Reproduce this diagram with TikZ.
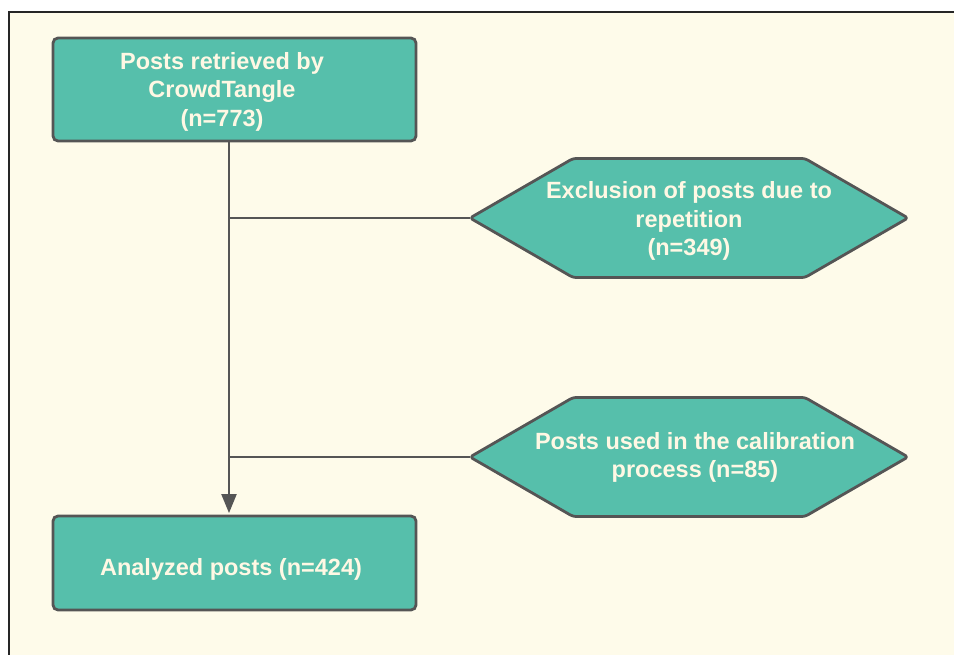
\documentclass[tikz,border=0pt]{standalone}
\usepackage{fontspec}
\setmainfont{Liberation Sans}
\usetikzlibrary{arrows.meta,calc,backgrounds}
\definecolor{cream}{HTML}{FEFBEA}
\definecolor{teal}{HTML}{56BFAB}
\definecolor{edge}{HTML}{555555}
\definecolor{txt}{HTML}{FFF8E4}
\tikzset{
  x=1pt, y=-1pt,
  boxnode/.style={draw=edge, line width=2.8pt, fill=teal, rounded corners=5pt,
    minimum width=363pt, inner sep=0pt},
  lbl/.style={inner sep=0pt, align=center, text=txt,
    font=\bfseries\fontsize{23.5}{28.5}\selectfont},
  hexshape/.style={draw=edge, line width=2.8pt, fill=teal, rounded corners=3pt, line join=round},
  link/.style={draw=edge, line width=2.2pt},
}
\begin{document}
\begin{tikzpicture}
\useasboundingbox (0,0) rectangle (954,655);
\fill[white] (0,0) rectangle (954,655);
\fill[cream] (9,12) rectangle (954,655);
\draw[black!85, line width=1.2pt] (9,655) -- (9,12) -- (954,12);

\node[boxnode, minimum height=103pt] (top) at (234.5,89.5) {};
\node[boxnode, minimum height=94pt] (bot) at (234.5,563) {};
\node[lbl] (toplbl) at (222,91.5) {Posts retrieved by\\CrowdTangle\\(n=773)};
\node[lbl] (botlbl) at (231,569) {Analyzed posts (n=424)};

\coordinate (ex) at (689,218);
\coordinate (cal) at (689,457);
\draw[hexshape] ($(ex)+(-116,-59.5)$) -- ($(ex)+(116,-59.5)$) -- ($(ex)+(219,0)$) -- ($(ex)+(116,59.5)$) -- ($(ex)+(-116,59.5)$) -- ($(ex)+(-219,0)$) -- cycle;
\draw[hexshape] ($(cal)+(-116,-59.5)$) -- ($(cal)+(116,-59.5)$) -- ($(cal)+(219,0)$) -- ($(cal)+(116,59.5)$) -- ($(cal)+(-116,59.5)$) -- ($(cal)+(-219,0)$) -- cycle;
\node[lbl] (exlbl) at ($(ex)+(0,3)$) {Exclusion of posts due to\\repetition\\(n=349)};
\node[lbl] (callbl) at ($(cal)+(6,0.5)$) {Posts used in the calibration\\process (n=85)};

\coordinate (extip) at ($(ex)+(-219,0)$);
\coordinate (caltip) at ($(cal)+(-219,0)$);
\coordinate (j1) at (229,218);
\coordinate (j2) at (229,457);

\draw[link, -{Triangle[length=19pt,width=15pt]}] ($(top.south)+(-5.5,0)$) -- ($(bot.north)+(-5.5,-1.5)$);
\draw[link] (j1) -- (extip);
\draw[link] (j2) -- (caltip);
\end{tikzpicture}
\end{document}
